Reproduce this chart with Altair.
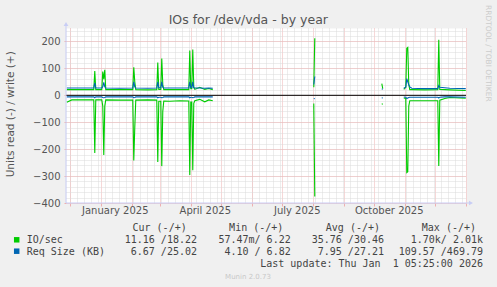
import altair as alt
import pandas as pd

# ---------------- data ----------------
dates = [
    "2024-11-28", "2024-12-03", "2024-12-25", "2024-12-26", "2024-12-27",
    "2025-01-02", "2025-01-03", "2025-01-04", "2025-01-05", "2025-01-06",
    "2025-01-20", "2025-02-02", "2025-02-03", "2025-02-04", "2025-02-05",
    "2025-02-17", "2025-02-26", "2025-02-27", "2025-02-28", "2025-03-02",
    "2025-03-03", "2025-03-04", "2025-03-05", "2025-03-11", "2025-03-21",
    "2025-03-30", "2025-03-31", "2025-04-01", "2025-04-02", "2025-04-03",
    "2025-04-04", "2025-04-05", "2025-04-10", "2025-04-15", "2025-04-19",
    "2025-04-23",
    "2025-08-02", "2025-08-03",
    "2025-10-09", "2025-10-10",
    "2025-10-31", "2025-11-02", "2025-11-03", "2025-11-04", "2025-11-05",
    "2025-11-06", "2025-11-08", "2025-11-21", "2025-12-04", "2025-12-05",
    "2025-12-06", "2025-12-11", "2025-12-16", "2026-01-01",
]
segment = ["A"] * 36 + ["B"] * 2 + ["C"] * 2 + ["D"] * 14

io_write = [
    21, 21, 21, 90, 21, 21, 88, 60, 95, 21, 21, 21, 104, 50, 21, 20, 21, 122,
    22, 22, 137, 40, 21, 21, 21, 21, 166, 25, 25, 170, 30, 22, 30, 22, 25, 21,
    30, 212,
    43, 25,
    22, 30, 175, 178, 40, 21, 21, 20, 21, 206, 22, 21, 20, 18,
]
io_read = [
    26, 17, 17, 214, 17, 17, 40, 222, 40, 17, 18, 18, 242, 120, 18, 17, 18, 248,
    22, 22, 263, 60, 21, 22, 20, 21, 296, 25, 25, 278, 30, 20, 15, 24, 17, 20,
    30, 376,
    33, 31,
    10, 12, 287, 284, 40, 20, 20, 20, 20, 263, 18, 12, 8, 11,
]
req_write = [
    27, 27, 27, 46, 27, 27, 32, 48, 32, 27, 26, 27, 50, 32, 27, 26, 27, 50,
    28, 28, 50, 30, 27, 27, 27, 27, 50, 28, 28, 50, 28, 27, 27, 26, 27, 26,
    40, 70,
    24, 22,
    26, 30, 62, 50, 40, 31, 26, 25, 25, 36, 30, 28, 26, 25,
]
req_read = [
    6, 6, 6, 9, 6, 6, 8, 9, 8, 6, 6, 6, 9, 8, 6, 6, 6, 9,
    7, 7, 9, 8, 6, 6, 6, 6, 9, 7, 7, 9, 8, 6, 6, 6, 6, 6,
    12, 13,
    10, 9,
    6, 7, 12, 10, 8, 7, 7, 7, 7, 10, 7, 6, 6, 7,
]

series_names = ["IO/sec", "Req Size (KB)"]
series_colors = ["#00cc00", "#0066b3"]

y_labels = [-400, -300, -200, -100, 0, 100, 200]
month_labels = [(2025, 1, 15), (2025, 4, 15), (2025, 7, 16), (2025, 10, 16)]

legend_header = ["Cur (-/+)", "Min (-/+)", "Avg (-/+)", "Max (-/+)"]
legend_rows = [
    ["11.16 /18.22", "57.47m/ 6.22", "35.76 /30.46", "1.70k/ 2.01k"],
    ["6.67 /25.02", "4.10 / 6.82", "7.95 /27.21", "109.57 /469.79"],
]
last_update = "Last update: Thu Jan\u00a0 1 05:25:00 2026"

# ---------------- layout ----------------
W, H = 400, 175
FONT = "DejaVu Sans"
MONO = "DejaVu Sans Mono"
TXT = "#555555"
AXIS_C = "#c8cdf5"
MINOR_C = "#dadada"
MAJOR_C = "#eeb0b0"

x_scale = alt.Scale(domain=[
    alt.DateTime(year=2024, month=11, date=27, hours=5, minutes=25),
    alt.DateTime(year=2026, month=1, date=1, hours=5, minutes=25),
])
y_scale = alt.Scale(domain=[-400, 250], nice=False, zero=False)


def long_df(write, read, name):
    rows = []
    for d, s, w, r in zip(dates, segment, write, read):
        rows.append({"date": d, "value": w, "key": f"{name}-w-{s}"})
        rows.append({"date": d, "value": -r, "key": f"{name}-r-{s}"})
    df = pd.DataFrame(rows)
    df["date"] = pd.to_datetime(df["date"])
    return df


io_df = long_df(io_write, io_read, "io")
rs_df = long_df(req_write, req_read, "rs")
dummy = pd.DataFrame({"_": [0]})

# ---------------- grid layers (via axes) ----------------
minor_grid = alt.Chart(io_df).mark_point(opacity=0).encode(
    x=alt.X("date:T", scale=x_scale, axis=alt.Axis(
        orient="bottom", grid=True, gridColor=MINOR_C, gridDash=[1, 1],
        tickCount=alt.TimeIntervalStep(interval="week", step=1),
        labels=False, ticks=False, domain=False, title=None)),
    y=alt.Y("value:Q", scale=y_scale, axis=alt.Axis(
        orient="left", grid=True, gridColor=MINOR_C, gridDash=[1, 1],
        values=list(range(-400, 251, 20)),
        labels=False, ticks=False, domain=False, title=None)),
)

major_grid = alt.Chart(io_df).mark_point(opacity=0).encode(
    x=alt.X("date:T", scale=x_scale, axis=alt.Axis(
        orient="bottom", grid=True, gridColor=MAJOR_C, gridDash=[1, 1],
        tickCount=alt.TimeIntervalStep(interval="month", step=1),
        labels=False, ticks=True, tickColor=MAJOR_C, tickSize=3,
        domain=False, title=None)),
    y=alt.Y("value:Q", scale=y_scale, axis=alt.Axis(
        orient="left", grid=True, gridColor=MAJOR_C, gridDash=[1, 1],
        values=y_labels, labels=False, ticks=True, tickColor=MAJOR_C,
        tickSize=2, domain=False, title=None)),
)

# ---------------- data lines ----------------
label_x_axis = alt.Axis(
    orient="bottom", values=[alt.DateTime(year=y, month=m, date=d) for y, m, d in month_labels],
    format="%B %Y", formatType="time", grid=False, ticks=False, tickSize=0,
    domain=False, labelPadding=2, labelFont=FONT, labelFontSize=10,
    labelColor=TXT, title=None)
label_y_axis = alt.Axis(
    orient="left", values=y_labels, grid=False, ticks=False, tickSize=0,
    domain=False, labelPadding=6, labelFont=FONT, labelFontSize=10,
    labelColor=TXT, title=None)

io_lines = alt.Chart(io_df).mark_line(color=series_colors[0], strokeWidth=1.1).encode(
    x=alt.X("date:T", scale=x_scale, axis=label_x_axis),
    y=alt.Y("value:Q", scale=y_scale, axis=label_y_axis),
    detail="key:N",
)
rs_lines = alt.Chart(rs_df).mark_line(color=series_colors[1], strokeWidth=1.1).encode(
    x=alt.X("date:T", scale=x_scale, axis=None),
    y=alt.Y("value:Q", scale=y_scale, axis=None),
    detail="key:N",
)

zero_rule = alt.Chart(dummy).mark_rule(color="#000000", strokeWidth=1).encode(
    y=alt.Y(datum=0, scale=y_scale, axis=None), x=alt.value(0), x2=alt.value(W),
)

# axes lines with arrows (rrdtool style)
x_axis_line = alt.Chart(dummy).mark_rule(color=AXIS_C, strokeWidth=1).encode(
    x=alt.value(0), x2=alt.value(404), y=alt.value(H))
y_axis_line = alt.Chart(dummy).mark_rule(color=AXIS_C, strokeWidth=1).encode(
    x=alt.value(0), y=alt.value(-3), y2=alt.value(H))
x_arrow = alt.Chart(dummy).mark_point(shape="triangle-right", filled=True, color=AXIS_C,
                                       size=22, opacity=1).encode(
    x=alt.value(405), y=alt.value(H))
y_arrow = alt.Chart(dummy).mark_point(shape="triangle-up", filled=True, color=AXIS_C,
                                       size=22, opacity=1).encode(
    x=alt.value(0), y=alt.value(-4))


def txt(s, x, y, size=10, font=MONO, color="#444444", align="left",
        baseline="alphabetic", angle=0):
    kw = dict(text=s, font=font, fontSize=size, color=color, align=align,
              baseline=baseline)
    if angle:
        kw["angle"] = angle
    return alt.Chart(dummy).mark_text(**kw).encode(x=alt.value(x), y=alt.value(y))


texts = [
    txt("IOs for /dev/vda - by year", 182.3, -4, size=12.5, font=FONT, color=TXT,
        align="center"),
    txt("Units read (-) / write (+)", -55, 86.3, size=10.5, font=FONT, color=TXT,
        align="center", baseline="middle", angle=270),
    txt("RRDTOOL / TOBI OETIKER", 421.5, 25.3, size=7.5, font=FONT, color="#cccccc",
        align="center", baseline="middle", angle=90),
    txt("Munin 2.0.73", 182, 251, size=7, font=FONT, color="#c8c8c8", align="center"),
    txt(last_update, 417, 238.9, align="right"),
    txt(series_names[0], -39.3, 214.9),
    txt(series_names[1], -39.3, 227.3),
]
header_right = [120.7, 217.3, 314, 410]
value_right = [131, 224.7, 318, 417]
for h, xr in zip(legend_header, header_right):
    texts.append(txt(h, xr, 203.3, align="right"))
for row, yb in zip(legend_rows, [214.9, 227.3]):
    for v, xr in zip(row, value_right):
        texts.append(txt(v, xr, yb, align="right"))

swatches = [
    alt.Chart(dummy).mark_point(shape="square", filled=True, color=c, size=30,
                                opacity=1).encode(x=alt.value(-49.3), y=alt.value(yc))
    for c, yc in zip(series_colors, [211.8, 223.2])
]

chart = alt.layer(
    minor_grid, major_grid, io_lines, rs_lines, zero_rule,
    x_axis_line, y_axis_line, x_arrow, y_arrow, *swatches, *texts,
).resolve_axis(x="independent", y="independent").properties(
    width=W, height=H,
    padding={"left": 66, "top": 28, "right": 31, "bottom": 84},
    autosize=alt.AutoSizeParams(type="none"),
    background="#f0f0f0",
).configure_view(fill="#ffffff", stroke="transparent")

chart.save("out.html", embed_options={"renderer": "svg", "actions": False})
